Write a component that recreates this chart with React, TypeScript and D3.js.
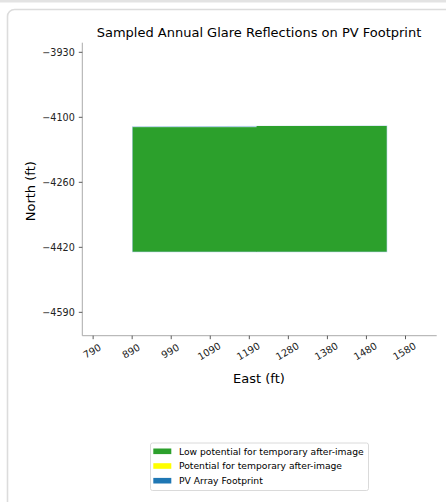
import React from "react";
import * as d3 from "d3";

const xTicks = [789.6, 888.3, 987.1, 1085.8, 1184.6, 1283.3, 1382.1, 1480.8, 1579.6];
const xTickLabels = ["790", "890", "990", "1090", "1190", "1280", "1380", "1480", "1580"];
const yTicks = [-3930, -4095, -4260, -4425, -4590];
const yTickLabels = ["\u22123930", "\u22124100", "\u22124260", "\u22124420", "\u22124590"];

// PV array footprint polygon (east, north)
const footprintEast = [889.6, 1532, 1532, 889.6];
const footprintNorth = [-4119, -4117, -4436, -4436];

// Glare cells (low potential): [east0, east1, northTop, northBottom]
const glareEast0 = [889.6, 1203];
const glareEast1 = [1204, 1532];
const glareTop = [-4120, -4117];
const glareBottom = [-4436, -4436];

const legendLabels = [
  "Low potential for temporary after-image",
  "Potential for temporary after-image",
  "PV Array Footprint",
];
const legendColors = ["#2ca02c", "#ffff00", "#1f77b4"];

export default function App() {
  const W = 446, H = 502;
  const left = 82.3, right = 436.7, top = 42.7, bottom = 335.7;
  const x = d3.scaleLinear().domain([762.2, 1658.5]).range([left, right]);
  const y = d3.scaleLinear().domain([-3905.6, -4649.3]).range([top, bottom]);
  const font = "DejaVu Sans, sans-serif";

  const fp = footprintEast.map((e, i) => [x(e), y(footprintNorth[i])] as [number, number]);
  const fpPath = d3.line()(fp) + "Z";

  return (
    <svg width={W} height={H} style={{ position: "absolute", left: 0, top: 0 }} fontFamily={font}>
      <rect x={0} y={0} width={W} height={H} fill="#fff" />
      <rect x={0} y={0} width={W} height={2.5} fill="#e3e3e3" />
      <rect x={7.5} y={9.5} width={460} height={520} rx={7} fill="#fff" stroke="#dcdcdc" strokeWidth={1.6} />

      <text x={259} y={37} textAnchor="middle" fontSize={13} fill="#000">
        Sampled Annual Glare Reflections on PV Footprint
      </text>

      {/* footprint */}
      <path d={fpPath} fill="#1f77b4" fillOpacity={0.15} stroke="#1f77b4" strokeOpacity={0.3} strokeWidth={1.2} />
      {glareEast0.map((e0, i) => (
        <rect
          key={i}
          x={x(e0)}
          y={y(glareTop[i])}
          width={x(glareEast1[i]) - x(e0)}
          height={y(glareBottom[i]) - y(glareTop[i])}
          fill="#2ca02c"
        />
      ))}

      {/* spines */}
      <line x1={left} x2={left} y1={top} y2={bottom} stroke="#aaa" strokeWidth={1} />
      <line x1={left} x2={right} y1={bottom} y2={bottom} stroke="#aaa" strokeWidth={1} />

      {yTicks.map((t, i) => (
        <g key={i}>
          <line x1={left - 3.5} x2={left} y1={y(t)} y2={y(t)} stroke="#333" strokeWidth={0.8} />
          <text x={left - 7.5} y={y(t)} dy="0.35em" textAnchor="end" fontSize={9.6} fill="#222">
            {yTickLabels[i]}
          </text>
        </g>
      ))}
      {xTicks.map((t, i) => (
        <g key={i}>
          <line x1={x(t)} x2={x(t)} y1={bottom} y2={bottom + 3.5} stroke="#333" strokeWidth={0.8} />
          <text
            transform={`translate(${x(t) - 1},${bottom + 15.5}) rotate(-30)`}
            textAnchor="middle"
            dy="0.35em"
            fontSize={9.8}
            fill="#222"
          >
            {xTickLabels[i]}
          </text>
        </g>
      ))}

      <text x={259} y={378.5} dy="0.35em" textAnchor="middle" fontSize={13} fill="#000">
        East (ft)
      </text>
      <text transform={`translate(30,${(top + bottom) / 2 + 2}) rotate(-90)`} dy="0.35em" textAnchor="middle" fontSize={13} fill="#000">
        North (ft)
      </text>

      {/* legend */}
      <rect x={150.5} y={443} width={218} height={47.5} rx={2} fill="#fff" stroke="#d0d0d0" strokeWidth={0.8} />
      {legendLabels.map((l, i) => {
        const cy = 451.3 + i * 14.7;
        return (
          <g key={i}>
            <rect x={153.3} y={cy - 2.8} width={18} height={5.6} fill={legendColors[i]} />
            <text x={179} y={cy} dy="0.35em" fontSize={9.2} fill="#000">
              {l}
            </text>
          </g>
        );
      })}
    </svg>
  );
}
